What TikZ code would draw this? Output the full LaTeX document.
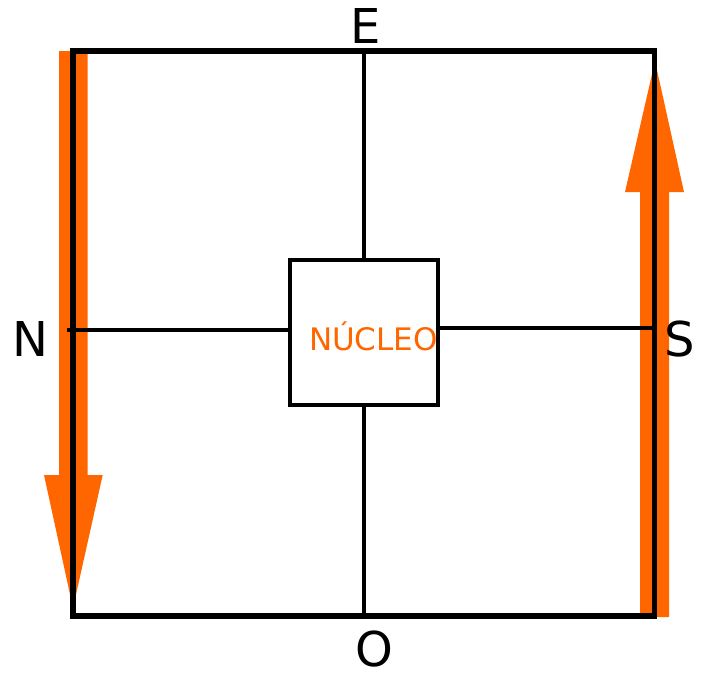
\documentclass[tikz,border=0pt]{standalone}
\usepackage{fontspec}
\setmainfont{DejaVu Sans}
\definecolor{flowOrange}{RGB}{255,102,0}

\begin{document}
\begin{tikzpicture}[
  x=1pt,
  y=-1pt,
  frame/.style={draw=black, line width=5.7pt},
  axis/.style={draw=black, line width=3.5pt},
  core/.style={draw=black, line width=4.3pt, minimum width=148.6pt,
    minimum height=145.3pt, inner sep=0pt},
  flow/.style={fill=flowOrange},
  pole/.style={font=\fontsize{48}{58}\selectfont, inner sep=0pt},
  coreLabel/.style={font=\fontsize{31}{37}\selectfont, text=flowOrange, inner sep=0pt}
]
  \useasboundingbox (0,0) rectangle (701,678);

  % orange block arrows behind the frame
  \fill[flow] (59,51) -- (87.7,51) -- (87.7,475) -- (102.7,475) -- (73,608)
    -- (44,475) -- (59,475) -- cycle;
  \fill[flow] (640,617) -- (669,617) -- (669,192) -- (684,192) -- (655,61)
    -- (625,192) -- (640,192) -- cycle;

  % frame and edge points
  \draw[frame] (73,51) rectangle (654.5,616);
  \coordinate (eEdge) at (364,51);
  \coordinate (oEdge) at (364,616);
  \coordinate (nEdge) at (67,330);
  \coordinate (sEdge) at (655,328);

  \node[core] (box) at (364,332.3) {};
  \node[coreLabel] (nucleo) at (373.5,336) {NÚCLEO};

  \draw[axis] (eEdge) -- (eEdge |- box.north);
  \draw[axis] (box.south) -- (box.south |- oEdge);
  \draw[axis] (nEdge) -- (nEdge -| box.west);
  \draw[axis] (box.east |- sEdge) -- (sEdge);

  \node[pole] (e) at (366,26.5) {E};
  \node[pole] (n) at (30,339) {N};
  \node[pole] (s) at (680,339) {S};
  \node[pole] (o) at (374,649) {O};
\end{tikzpicture}
\end{document}
